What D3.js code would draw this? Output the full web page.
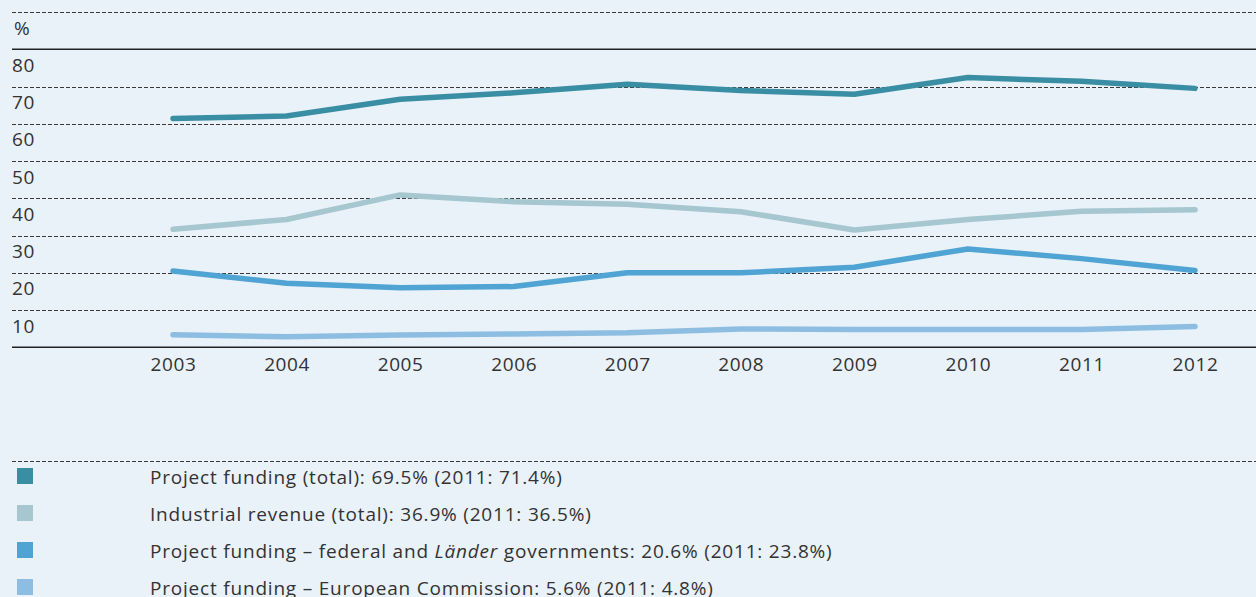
<!DOCTYPE html>
<html>
<head>
<meta charset="utf-8">
<script src="https://cdn.jsdelivr.net/npm/d3@7"></script>
<style>
  html, body { margin: 0; padding: 0; background: #e9f1f9; }
  svg { display: block; }
  text { font-family: "Open Sans", "Noto Sans", sans-serif; fill: #333; }
</style>
</head>
<body>
<svg id="chart" width="1256" height="597"></svg>
<script>
const years = [2003, 2004, 2005, 2006, 2007, 2008, 2009, 2010, 2011, 2012];
const projectTotal = [61.4, 62.1, 66.6, 68.3, 70.6, 68.9, 67.9, 72.4, 71.4, 69.5];
const industrialRevenue = [31.7, 34.3, 40.9, 39.1, 38.4, 36.4, 31.5, 34.3, 36.5, 36.9];
const federalLaender = [20.5, 17.2, 16.0, 16.3, 20.0, 20.0, 21.5, 26.4, 23.8, 20.6];
const europeanCommission = [3.4, 2.8, 3.3, 3.6, 3.9, 4.9, 4.8, 4.8, 4.8, 5.6];
const yTicks = [10, 20, 30, 40, 50, 60, 70, 80];
const seriesNames = ["projectTotal", "industrialRevenue", "federalLaender", "europeanCommission"];
const seriesColors = ["#3a8ea3", "#a6c6d0", "#4fa4d3", "#8dbee1"];
const legendTexts = [
  [{t: "Project funding (total): 69.5% (2011: 71.4%)"}],
  [{t: "Industrial revenue (total): 36.9% (2011: 36.5%)"}],
  [{t: "Project funding \u2013 federal and "}, {t: "L\u00e4nder", i: true}, {t: " governments: 20.6% (2011: 23.8%)"}],
  [{t: "Project funding \u2013 European Commission: 5.6% (2011: 4.8%)"}]
];
const seriesData = [projectTotal, industrialRevenue, federalLaender, europeanCommission];

const svg = d3.select("#chart");
const W = 1256;
const left = 12;

const x = d3.scalePoint().domain(years).range([173, 1195]);
const y = d3.scaleLinear().domain([0, 90]).range([347.3, 12]);

// gridlines
const gridVals = [10, 20, 30, 40, 50, 60, 70, 90];
svg.append("g").selectAll("line").data(gridVals).join("line")
  .attr("x1", left).attr("x2", W)
  .attr("y1", d => Math.round(y(d)) + 0.5).attr("y2", d => Math.round(y(d)) + 0.5)
  .attr("stroke", "#3a3a3a").attr("stroke-width", 1)
  .attr("stroke-dasharray", "4,2");

// solid lines at 0 and 80
svg.append("g").selectAll("line").data([0, 80]).join("line")
  .attr("x1", left).attr("x2", W)
  .attr("y1", d => y(d)).attr("y2", d => y(d))
  .attr("stroke", "#222").attr("stroke-width", 1.5);

// y labels (hang below their gridline)
svg.append("g").selectAll("text").data(yTicks).join("text")
  .attr("x", left).attr("y", d => y(d) + 22.5)
  .attr("font-size", 19).attr("letter-spacing", 0.6)
  .text(d => d);
svg.append("text").attr("x", left + 2).attr("y", y(90) + 23)
  .attr("font-size", 19).text("%");

// x axis labels
const xAxis = d3.axisBottom(x).tickSize(0).tickPadding(0);
const gx = svg.append("g").attr("transform", `translate(0, ${371})`).call(xAxis);
gx.select(".domain").remove();
gx.selectAll("text").attr("font-size", 19).attr("dy", 0).attr("letter-spacing", 0.6)
  .attr("font-family", "Open Sans, Noto Sans, sans-serif").attr("fill", "#333");

// lines
const line = d3.line().x((d, i) => x(years[i])).y(d => y(d));
svg.append("g").selectAll("path").data(seriesData.slice().reverse()).join("path")
  .attr("d", d => line(d))
  .attr("fill", "none")
  .attr("stroke", (d, i) => seriesColors[seriesColors.length - 1 - i])
  .attr("stroke-width", 5.5)
  .attr("stroke-linecap", "round")
  .attr("stroke-linejoin", "round");

// legend
svg.append("line").attr("x1", left).attr("x2", W).attr("y1", 461.5).attr("y2", 461.5)
  .attr("stroke", "#3a3a3a").attr("stroke-dasharray", "4,2");
const lg = svg.append("g").selectAll("g").data(seriesNames).join("g")
  .attr("transform", (d, i) => `translate(0, ${468 + i * 37})`);
lg.append("rect").attr("x", 17).attr("y", 0).attr("width", 16).attr("height", 16)
  .attr("fill", (d, i) => seriesColors[i]);
lg.append("text").attr("x", 150).attr("y", 15.5).attr("font-size", 19)
  .attr("letter-spacing", 0.8)
  .each(function(d, i) {
    const t = d3.select(this);
    legendTexts[i].forEach(p => {
      t.append("tspan").attr("font-style", p.i ? "italic" : null).text(p.t);
    });
  });
</script>
</body>
</html>
